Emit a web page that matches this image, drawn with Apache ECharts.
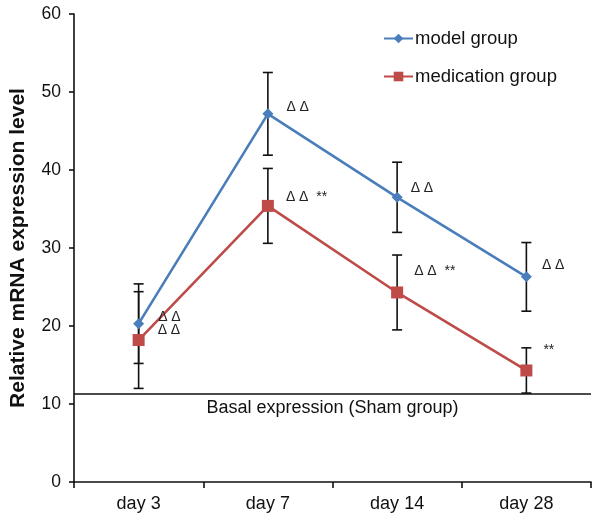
<!DOCTYPE html>
<html>
<head>
<meta charset="utf-8">
<script src="https://cdn.jsdelivr.net/npm/echarts@6/dist/echarts.min.js"></script>
<style>html,body{margin:0;padding:0;background:#fff}#c{width:600px;height:519px}</style>
</head>
<body>
<div id="c"></div>
<script>
const categories = ['day 3', 'day 7', 'day 14', 'day 28'];
const modelValues = [20.3, 47.2, 36.5, 26.3];
const modelErrors = [5.1, 5.3, 4.5, 4.4];
const medValues = [18.2, 35.4, 24.3, 14.3];
const medErrors = [6.2, 4.8, 4.8, 2.9];
const modelMarks = ['Δ Δ', 'Δ Δ', 'Δ Δ', 'Δ Δ'];
const medMarks = ['Δ Δ', 'Δ Δ  **', 'Δ Δ  **', '**'];
const basalLevel = 11.3;
const basalText = 'Basal expression (Sham group)';
const yTicks = [0, 10, 20, 30, 40, 50, 60];

// layout for annotation labels (pixel offsets, not data)
const modelLabelOffsets = [[9, -7], [8, -7], [3, -9], [5, -12]];
const medLabelOffsets = [[8, -10], [7, -9], [6, -21], [6, -20]];

const FONT = 'Liberation Sans, Arial, sans-serif';
const BLUE = '#4A7EBB';
const RED = '#BE4B48';

function buildData(values, marks, offsets) {
  return values.map((v, i) => ({
    value: v,
    label: { show: true, formatter: marks[i], position: 'right', distance: 5, offset: offsets[i],
      color: '#222', fontSize: 14, fontFamily: FONT }
  }));
}

function errData(values, errors) {
  return values.map((v, i) => [i, v - errors[i], v + errors[i]]);
}

function errRender(params, api) {
  const x = api.value(0);
  const lo = api.coord([x, api.value(1)]);
  const hi = api.coord([x, api.value(2)]);
  const w = 5;
  const st = { stroke: '#111', lineWidth: 1.6 };
  return {
    type: 'group',
    children: [
      { type: 'line', shape: { x1: lo[0], y1: lo[1], x2: hi[0], y2: hi[1] }, style: st },
      { type: 'line', shape: { x1: lo[0] - w, y1: lo[1], x2: lo[0] + w, y2: lo[1] }, style: st },
      { type: 'line', shape: { x1: hi[0] - w, y1: hi[1], x2: hi[0] + w, y2: hi[1] }, style: st }
    ]
  };
}

const chart = echarts.init(document.getElementById('c'), null, { renderer: 'canvas' });
chart.setOption({
  animation: false,
  backgroundColor: '#fff',
  grid: { left: 73, right: 9, top: 14, bottom: 37 },
  legend: {
    orient: 'vertical', left: 378, top: 24, itemGap: 19, itemWidth: 29, itemHeight: 12,
    textStyle: { fontSize: 18.5, fontFamily: FONT, color: '#111', padding: [0, 0, 0, -3] },
    data: ['model group', 'medication group']
  },
  xAxis: {
    type: 'category', data: categories,
    axisLine: { lineStyle: { color: '#111', width: 1.6 } },
    axisTick: { show: true, length: 6, lineStyle: { color: '#111', width: 1.6 } },
    axisLabel: { fontSize: 18, color: '#111', fontFamily: FONT, margin: 13 },
    splitLine: { show: false }
  },
  yAxis: {
    type: 'value', min: yTicks[0], max: yTicks[yTicks.length - 1], interval: 10,
    name: 'Relative mRNA expression level', nameLocation: 'middle', nameGap: 45,
    nameTextStyle: { fontSize: 21, fontWeight: 'bold', color: '#111', fontFamily: FONT },
    axisLine: { show: true, lineStyle: { color: '#111', width: 1.6 } },
    axisTick: { show: true, length: 5, lineStyle: { color: '#111', width: 1.6 } },
    axisLabel: { fontSize: 17.5, color: '#111', fontFamily: FONT, margin: 13 },
    splitLine: { show: false }
  },
  series: [
    {
      type: 'custom', name: 'err-model', renderItem: errRender, data: errData(modelValues, modelErrors), z: 1,
      encode: { x: 0, y: [1, 2] }, silent: true
    },
    {
      type: 'custom', name: 'err-med', renderItem: errRender, data: errData(medValues, medErrors), z: 1,
      encode: { x: 0, y: [1, 2] }, silent: true
    },
    {
      type: 'line', name: 'model group', data: buildData(modelValues, modelMarks, modelLabelOffsets),
      symbol: 'diamond', symbolSize: 11, z: 3,
      lineStyle: { color: BLUE, width: 2.6 }, itemStyle: { color: BLUE },
      markLine: {
        silent: true, symbol: 'none',
        lineStyle: { color: '#111', width: 1.6, type: 'solid' },
        label: { show: true, position: 'insideMiddleBottom', formatter: basalText, fontSize: 18,
          color: '#111', fontFamily: FONT, distance: 5 },
        data: [{ yAxis: basalLevel }]
      }
    },
    {
      type: 'line', name: 'medication group', data: buildData(medValues, medMarks, medLabelOffsets),
      symbol: 'rect', symbolSize: 12, z: 3,
      lineStyle: { color: RED, width: 2.6 }, itemStyle: { color: RED }
    }
  ]
});
</script>
</body>
</html>
